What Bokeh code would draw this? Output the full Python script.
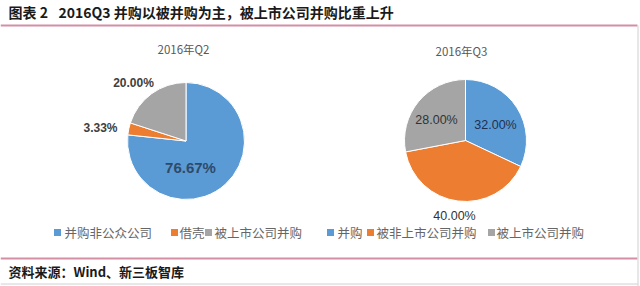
import numpy as np
from bokeh.plotting import figure
from bokeh.models import Range1d, ColumnDataSource
from bokeh.core.properties import value
from bokeh.embed import file_html
from bokeh.resources import INLINE

# ---------------- data ----------------
title_label = "图表 2"
title_text = "2016Q3 并购以被并购为主，被上市公司并购比重上升"
source_text = "资料来源：Wind、新三板智库"

pie_titles = ["2016年Q2", "2016年Q3"]
categories_q2 = ["并购非公众公司", "借壳", "被上市公司并购"]
values_q2 = [76.67, 3.33, 20.00]
categories_q3 = ["并购", "被非上市公司并购", "被上市公司并购"]
values_q3 = [32.00, 40.00, 28.00]
colors = ["#5B9BD5", "#ED7D31", "#A5A5A5"]

# ---------------- layout ----------------
W, H = 640, 286
CJK = "Noto Sans CJK SC"
NUM = "Liberation Sans"


def Y(y):
    return H - y


p = figure(width=W, height=H, output_backend="svg", toolbar_location=None,
           x_range=Range1d(0, W), y_range=Range1d(0, H), min_border=0)
p.axis.visible = False
p.grid.visible = False
p.outline_line_color = None
p.background_fill_color = "white"
p.border_fill_color = "white"

# frame lines
p.segment(x0=[0, 0], y0=[Y(25), Y(258)], x1=[637, 637], y1=[Y(25), Y(258)],
          line_color="#D48FA5", line_width=2)
p.segment(x0=[637.5, 0], y0=[Y(25), Y(283.5)], x1=[637.5, 637.5], y1=[Y(286), Y(283.5)],
          line_color="#D0D0D0", line_width=1)

# header/footer text
p.text(x=[8, 58], y=[Y(11), Y(11)], text=[title_label, title_text], text_font=value(CJK),
       text_font_size="14px", text_font_style="bold", text_color="#1a1a1a",
       text_baseline="middle", text_align="left")
p.text(x=[8], y=[Y(271)], text=[source_text], text_font=value(CJK), text_font_size="13px",
       text_font_style="bold", text_color="#1a1a1a", text_baseline="middle", text_align="left")


def pie(cx, cy, r, vals):
    v = np.array(vals, dtype=float)
    frac = v / v.sum()
    cum = np.cumsum(frac)
    start = np.pi / 2 - 2 * np.pi * (cum - frac)
    end = np.pi / 2 - 2 * np.pi * cum
    src = ColumnDataSource(dict(start=start, end=end, color=colors))
    p.wedge(x=cx, y=Y(cy), radius=r, start_angle="start", end_angle="end",
            direction="clock", fill_color="color", line_color="white",
            line_width=1, source=src)


pie(185.5, 140.5, 58.5, values_q2)
pie(465, 140, 61, values_q3)

# pie titles
p.text(x=[183, 461], y=[Y(48), Y(50)], text=pie_titles, text_font=value(CJK),
       text_font_size="11.5px", text_color="#595959", text_align="center", text_baseline="middle")

# data labels
fmt = lambda v: f"{v:.2f}%"
p.text(x=[133, 100], y=[Y(82), Y(127)], text=[fmt(values_q2[2]), fmt(values_q2[1])],
       text_font=value(NUM), text_font_size="12px", text_font_style="bold",
       text_color="#404040", text_align="center", text_baseline="middle")
p.text(x=[190], y=[Y(167)], text=[fmt(values_q2[0])],
       text_font=value(NUM), text_font_size="15px", text_font_style="bold",
       text_color="#2E4A6B", text_align="center", text_baseline="middle")
p.text(x=[436, 495, 454], y=[Y(119), Y(124), Y(215)],
       text=[fmt(values_q3[2]), fmt(values_q3[0]), fmt(values_q3[1])],
       text_font=value(NUM), text_font_size="12.5px",
       text_color=["#333333", "#1F3050", "#333333"], text_align="center", text_baseline="middle")

# legends
leg_y = 232
sq_x = [57, 174, 208, 330, 370, 491]
tx_x = [64, 179, 214, 337, 376, 496]
leg_text = categories_q2 + categories_q3
leg_col = colors + colors
p.scatter(x=sq_x, y=[Y(leg_y)] * 6, marker="square", size=7, fill_color=leg_col,
          line_color=None)
p.text(x=tx_x, y=[Y(leg_y)] * 6, text=leg_text, text_font=value(CJK), text_font_size="12.5px",
       text_color="#666666", text_align="left", text_baseline="middle")

open("out.html", "w").write(file_html(p, INLINE))
